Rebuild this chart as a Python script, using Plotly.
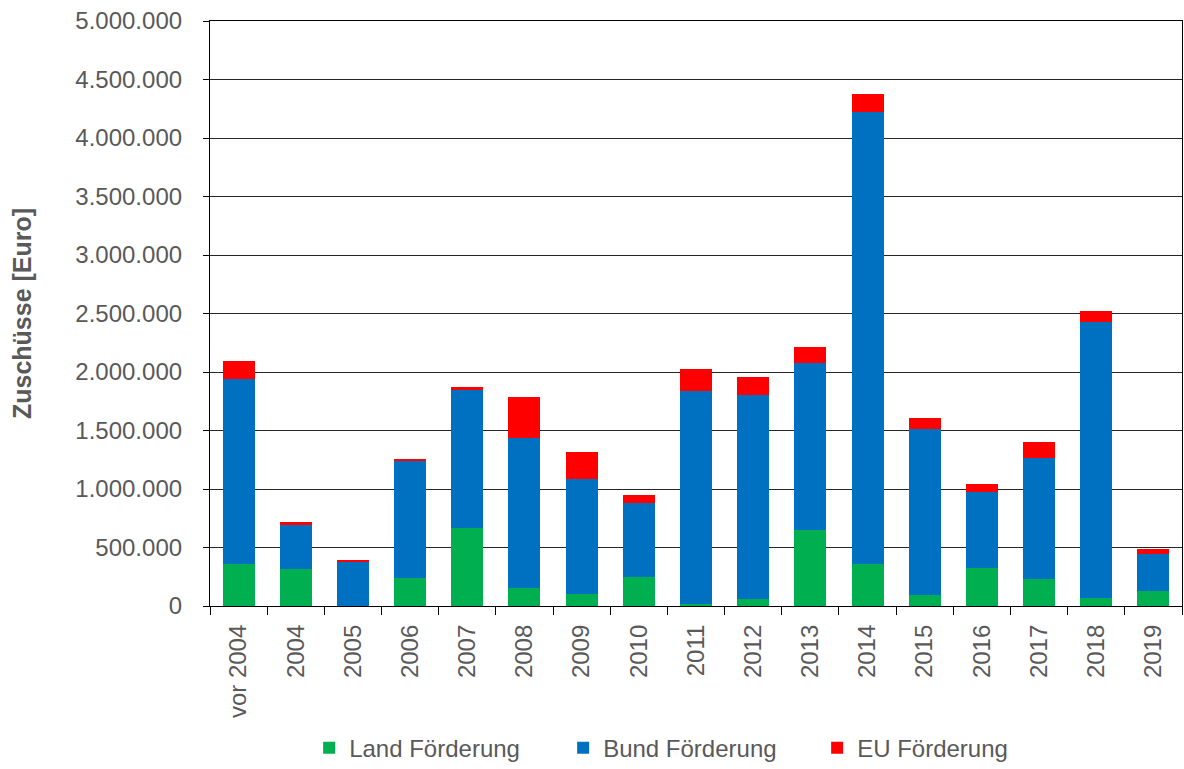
import plotly.graph_objects as go

# Fördermittel je Jahr (Euro), gestapelt nach Geldgeber
jahre = ["vor 2004", "2004", "2005", "2006", "2007", "2008", "2009", "2010", "2011",
         "2012", "2013", "2014", "2015", "2016", "2017", "2018", "2019"]
land = [356000, 316000, 0, 239000, 664000, 154000, 103000, 251000, 17000,
        60000, 650000, 361000, 90000, 321000, 228000, 66000, 130000]
bund = [1587000, 379000, 379000, 1006000, 1188000, 1282000, 982000, 632000, 1821000,
        1746000, 1429000, 3864000, 1423000, 655000, 1034000, 2362000, 318000]
eu = [151000, 23000, 11000, 14000, 17000, 350000, 234000, 66000, 190000,
      148000, 136000, 150000, 98000, 64000, 136000, 93000, 40000]

y_ticks = list(range(0, 5000001, 500000))

grau = "#595959"
schrift = "Liberation Sans, Arial, sans-serif"

fig = go.Figure()
for name, werte, farbe in [("Land Förderung", land, "#00B050"),
                           ("Bund Förderung", bund, "#0070C0"),
                           ("EU Förderung", eu, "#FF0000")]:
    fig.add_trace(go.Bar(x=jahre, y=werte, name=name,
                         marker=dict(color=farbe, line=dict(width=0))))

fig.update_layout(
    barmode="stack",
    bargap=0.44,
    width=1184, height=769,
    margin=dict(l=210, r=2, t=21, b=163, autoexpand=False),
    paper_bgcolor="white", plot_bgcolor="white",
    separators=",.",
    font=dict(family=schrift, size=24, color=grau),
    legend=dict(orientation="h", x=0.102, y=-0.243, xanchor="left", yanchor="middle",
                font=dict(size=24, color=grau), entrywidth=209,
                traceorder="normal"),
    showlegend=True,
)

fig.update_yaxes(
    range=[0, 5000000], tickvals=y_ticks, tickformat=",d",
    showgrid=True, gridcolor="#262626", gridwidth=1.2,
    zeroline=False,
    showline=True, linecolor="#000000", linewidth=1.2, mirror=True,
    ticks="outside", ticklen=6, tickcolor="#000000",
    ticklabelstandoff=16,
    tickfont=dict(size=24, color=grau, family=schrift),
    title=dict(text="<b>Zuschüsse [Euro]</b>", standoff=36,
               font=dict(size=25, color=grau, family=schrift)),
)
fig.update_xaxes(
    tickangle=-90, tickson="boundaries",
    showline=True, linecolor="#000000", linewidth=1.2, mirror=True,
    ticks="outside", ticklen=8, tickcolor="#000000",
    ticklabelstandoff=8,
    tickfont=dict(size=24, color=grau, family=schrift),
)

fig.write_html("out.html")
